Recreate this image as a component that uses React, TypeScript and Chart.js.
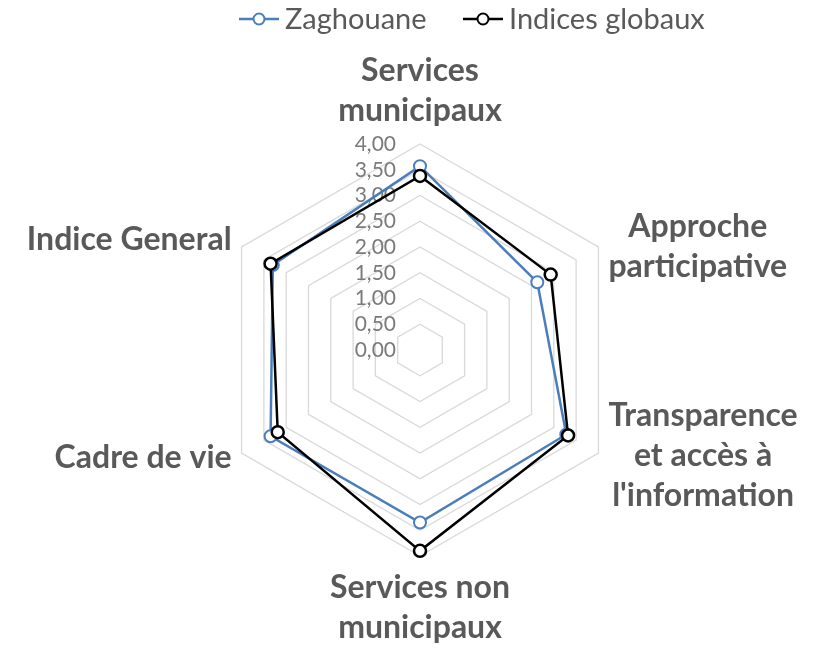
import React, { useEffect, useRef } from "react";
import { Chart, registerables } from "chart.js";

Chart.register(...registerables);

const categories: string[][] = [
  ["Services", "municipaux"],
  ["Approche", "participative"],
  ["Transparence", "et accès à", "l'information"],
  ["Services non", "municipaux"],
  ["Cadre de vie"],
  ["Indice General"],
];
const zaghouane: number[] = [3.57, 2.63, 3.28, 3.35, 3.35, 3.3];
const globaux: number[] = [3.38, 2.93, 3.32, 3.9, 3.19, 3.35];
const tickValues: number[] = [0, 0.5, 1, 1.5, 2, 2.5, 3, 3.5, 4];
const seriesNames: string[] = ["Zaghouane", "Indices globaux"];

const BLUE = "#4a7ebb";
const BLACK = "#000000";
const TEXT = "#595959";
const FONT = "Lato, 'Open Sans', sans-serif";

const fmt = (v: number) => v.toFixed(2).replace(".", ",");

const overlayPlugin = {
  id: "overlay",
  beforeDatasetsDraw(chart: any) {
    const s = chart.scales.r;
    const ctx = chart.ctx;
    ctx.save();
    ctx.font = `21px ${FONT}`;
    ctx.fillStyle = "#7a7a7a";
    ctx.textAlign = "right";
    ctx.textBaseline = "middle";
    for (const v of tickValues) {
      const d = s.getDistanceFromCenterForValue(v);
      ctx.fillText(fmt(v), s.xCenter - 24, s.yCenter - d);
    }
    ctx.restore();
  },
  afterDraw(chart: any) {
    const s = chart.scales.r;
    const ctx = chart.ctx;
    ctx.save();
    ctx.font = `bold 32px ${FONT}`;
    ctx.fillStyle = TEXT;
    const lh = 40;
    categories.forEach((lines, i) => {
      const p = s.getPointPosition(i, s.drawingArea);
      const n = lines.length;
      const widths = lines.map((l) => ctx.measureText(l).width);
      const bw = Math.max(...widths);
      let cx = p.x;
      let top = p.y - (n * lh) / 2;
      ctx.textBaseline = "middle";
      ctx.textAlign = "center";
      if (i === 0) {
        top = p.y - 13 - n * lh;
      } else if (i === 3) {
        top = p.y + 12;
      } else if (i === 1) {
        cx = p.x + 10 + bw / 2;
      } else if (i === 2) {
        cx = p.x + 10 + bw / 2;
        top += 3;
      } else {
        cx = p.x - 10 - bw / 2;
        top = p.y - (n * lh) / 2 + (i === 4 ? 5 : -7);
      }
      lines.forEach((l, k) => {
        ctx.fillText(l, cx, top + lh * k + lh / 2);
      });
    });

    // legend
    ctx.font = `29px ${FONT}`;
    ctx.textAlign = "left";
    ctx.textBaseline = "middle";
    const y = 19;
    const items = [
      { x: 239, color: BLUE, label: seriesNames[0] },
      { x: 463, color: BLACK, label: seriesNames[1] },
    ];
    items.forEach((it) => {
      ctx.strokeStyle = it.color;
      ctx.lineWidth = 2.5;
      ctx.beginPath();
      ctx.moveTo(it.x, y);
      ctx.lineTo(it.x + 40, y);
      ctx.stroke();
      ctx.beginPath();
      ctx.arc(it.x + 20, y, 5.5, 0, Math.PI * 2);
      ctx.fillStyle = "#ffffff";
      ctx.fill();
      ctx.lineWidth = 2;
      ctx.stroke();
      ctx.fillStyle = TEXT;
      ctx.fillText(it.label, it.x + 46, y + 1);
    });
    ctx.restore();
  },
};

export default function App() {
  const ref = useRef<HTMLCanvasElement | null>(null);
  useEffect(() => {
    document.body.style.margin = "0";
    const canvas = ref.current;
    if (!canvas) return;
    const chart = new Chart(canvas, {
      type: "radar",
      data: {
        labels: categories.map((c) => c.join(" ")),
        datasets: [
          {
            label: seriesNames[0],
            data: zaghouane,
            borderColor: BLUE,
            backgroundColor: "rgba(0,0,0,0)",
            borderWidth: 2.5,
            pointRadius: 6,
            pointBorderWidth: 2,
            pointBackgroundColor: "#ffffff",
            pointBorderColor: BLUE,
            fill: false,
            order: 2,
          },
          {
            label: seriesNames[1],
            data: globaux,
            borderColor: BLACK,
            backgroundColor: "rgba(0,0,0,0)",
            borderWidth: 2.5,
            pointRadius: 6,
            pointBorderWidth: 2.5,
            pointBackgroundColor: "#ffffff",
            pointBorderColor: BLACK,
            fill: false,
            order: 1,
          },
        ],
      },
      options: {
        animation: false,
        responsive: false,
        maintainAspectRatio: false,
        plugins: {
          legend: { display: false },
          tooltip: { enabled: false },
        },
        elements: { line: { tension: 0 } },
        scales: {
          r: {
            min: 0,
            max: 4,
            ticks: { stepSize: 0.5, display: false, showLabelBackdrop: false },
            grid: { color: "#d9d9d9", lineWidth: 1.3 },
            angleLines: { display: false },
            pointLabels: { display: false },
            afterFit: (scale: any) => {
              scale.xCenter = 420;
              scale.yCenter = 350;
              scale.drawingArea = 206;
            },
          },
        },
      },
      plugins: [overlayPlugin],
    });
    return () => chart.destroy();
  }, []);
  return (
    <div style={{ width: 815, height: 648, background: "#fff" }}>
      <canvas ref={ref} width={815} height={648} style={{ display: "block" }} />
    </div>
  );
}
